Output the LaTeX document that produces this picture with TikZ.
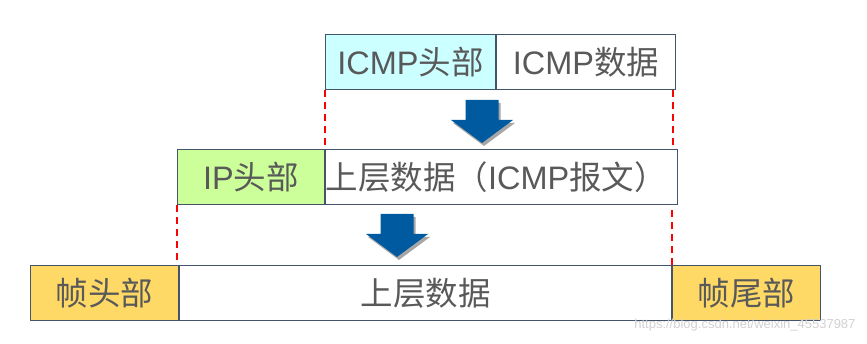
\documentclass[tikz,border=0pt]{standalone}
\usepackage{fontspec}
\setmainfont{Liberation Sans}
\newfontfamily\cjk{Noto Sans CJK SC}
\usepackage{tikz}
\usetikzlibrary{shadows}

\definecolor{linec}{HTML}{44546A}
\definecolor{textc}{HTML}{595959}
\definecolor{icmpc}{HTML}{CCFFFF}
\definecolor{ipc}{HTML}{CCFF99}
\definecolor{framec}{HTML}{FFD966}
\definecolor{arrowc}{HTML}{005AA0}

\newcommand{\blockdown}[1]{%
  \fill[arrowc, drop shadow={shadow xshift=2pt, shadow yshift=-3pt, opacity=0.35, fill=black}]
    ([xshift=-16.5pt]#1) -- ([xshift=16.5pt]#1) -- ([xshift=16.5pt, yshift=-20pt]#1)
    -- ([xshift=31pt, yshift=-20pt]#1) -- ([yshift=-43pt]#1)
    -- ([xshift=-31pt, yshift=-20pt]#1) -- ([xshift=-16.5pt, yshift=-20pt]#1) -- cycle;}

\begin{document}
\begin{tikzpicture}[x=1pt, y=-1pt,
    cell/.style = {draw=linec, line width=1pt, minimum height=55pt, inner sep=0pt,
      text=textc, font=\fontsize{32.5}{38}\selectfont, anchor=west},
    cut/.style = {red, line width=1.5pt, dash pattern=on 7pt off 5pt}]
  \useasboundingbox (0,0) rectangle (867,344);

  % ICMP
  \node[cell, fill=icmpc, minimum width=170pt] (icmph) at (325,62) {ICMP{\cjk 头部}};
  \node[cell, minimum width=179pt] (icmpd) at (icmph.east) {ICMP{\cjk 数据}};

  % IP
  \node[cell, fill=ipc, minimum width=147pt] (iph) at (177,177.5) {IP{\cjk 头部}};
  \node[cell, text width=352pt, align=left] (ipd) at (iph.east) {{\cjk 上层数据（}ICMP{\cjk 报文）}};

  % frame
  \node[cell, fill=framec, minimum width=148pt] (fh) at (30,293.5) {\cjk 帧头部};
  \node[cell, minimum width=492pt] (fd) at (fh.east) {\cjk 上层数据};
  \node[cell, fill=framec, minimum width=148pt] (ft) at (fd.east) {\cjk 帧尾部};

  % arrows
  \coordinate (arr1) at (482,100);
  \coordinate (arr2) at (397,214);
  \blockdown{arr1}
  \blockdown{arr2}

  % dashed guides
  \draw[cut] (icmph.south west) -- (icmph.south west |- ipd.north);
  \draw[cut] ([xshift=-3pt]icmpd.south east) -- ([xshift=-3pt]icmpd.south east |- ipd.north);
  \draw[cut] (iph.south west) -- (iph.south west |- fd.north);
  \draw[cut] (fd.north east) -- (fd.north east |- ipd.south);

  \node[text=black!18, font=\fontsize{13}{15}\selectfont, anchor=east] (mark) at (859,325) {https://blog.csdn.net/weixin\_45537987};
\end{tikzpicture}
\end{document}
